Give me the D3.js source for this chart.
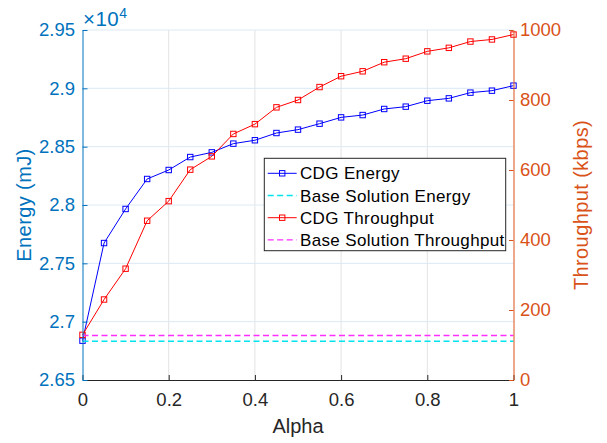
<!DOCTYPE html>
<html>
<head>
<meta charset="utf-8">
<script src="https://cdn.jsdelivr.net/npm/d3@7"></script>
<style>
  html, body { margin: 0; padding: 0; background: #fff; }
  svg { display: block; font-family: "Liberation Sans", Arial, Helvetica, sans-serif; }
</style>
</head>
<body>
<svg id="chart" width="607" height="443"></svg>
<script>
// Alpha sweep and the measured series
const alpha = [0, 0.05, 0.1, 0.15, 0.2, 0.25, 0.3, 0.35, 0.4, 0.45, 0.5,
               0.55, 0.6, 0.65, 0.7, 0.75, 0.8, 0.85, 0.9, 0.95, 1];
const cdgEnergy = [26837, 27674, 27966, 28223, 28300, 28411, 28451, 28526, 28555, 28617, 28646,
                   28697, 28751, 28771, 28823, 28843, 28894, 28914, 28963, 28980, 29023];
const cdgThroughput = [129, 230, 318, 455, 511, 601, 639, 703, 731, 779, 800,
                       837, 868, 882, 908, 918, 939, 949, 967, 973, 987];
const baseEnergy = 26832;
const baseThroughput = 127;

// Axis ticks and labels
const xTicks = [0, 0.2, 0.4, 0.6, 0.8, 1];
const xTickLabels = ["0", "0.2", "0.4", "0.6", "0.8", "1"];
const energyTicks = [26500, 27000, 27500, 28000, 28500, 29000, 29500];
const energyTickLabels = ["2.65", "2.7", "2.75", "2.8", "2.85", "2.9", "2.95"];
const throughputTicks = [0, 200, 400, 600, 800, 1000];
const throughputTickLabels = ["0", "200", "400", "600", "800", "1000"];

const legendItems = [
  { label: "CDG Energy", color: "#0000ff", dashed: false, marker: true },
  { label: "Base Solution Energy", color: "#00e4ee", dashed: true, marker: false },
  { label: "CDG Throughput", color: "#ff0000", dashed: false, marker: true },
  { label: "Base Solution Throughput", color: "#ff2eff", dashed: true, marker: false }
];

const LEFT_C = "#0072bd", RIGHT_C = "#d95319", AX_C = "#262626";
const plot = { left: 82.5, right: 513.5, top: 30, bottom: 380 };

const svg = d3.select("#chart");
svg.append("rect").attr("width", 607).attr("height", 443).attr("fill", "#fff");

const x = d3.scaleLinear().domain([0, 1]).range([plot.left, plot.right]);
const yE = d3.scaleLinear().domain([26500, 29500]).range([plot.bottom, plot.top]);
const yT = d3.scaleLinear().domain([0, 1000]).range([plot.bottom, plot.top]);

// grid
const grid = svg.append("g");
grid.selectAll("line.gx").data(xTicks.slice(1, -1)).join("line")
  .attr("x1", d => x(d)).attr("x2", d => x(d))
  .attr("y1", plot.top).attr("y2", plot.bottom)
  .attr("stroke", "#e3e3e3").attr("stroke-width", 1);
grid.selectAll("line.gy").data(energyTicks.slice(1)).join("line")
  .attr("x1", plot.left).attr("x2", plot.right)
  .attr("y1", d => yE(d)).attr("y2", d => yE(d))
  .attr("stroke", "#dbe9f5").attr("stroke-width", 1);

// series
const lineE = d3.line().x((d, i) => x(alpha[i])).y(d => yE(d));
const lineT = d3.line().x((d, i) => x(alpha[i])).y(d => yT(d));

function markers(g, vals, yScale, color) {
  g.selectAll("rect").data(vals).join("rect")
    .attr("x", (d, i) => x(alpha[i]) - 2.7).attr("y", d => yScale(d) - 2.7)
    .attr("width", 5.4).attr("height", 5.4)
    .attr("fill", "none").attr("stroke", color).attr("stroke-width", 1);
}

const gE = svg.append("g");
gE.append("path").datum(cdgEnergy).attr("d", lineE)
  .attr("fill", "none").attr("stroke", "#0000ff").attr("stroke-width", 1);
markers(gE, cdgEnergy, yE, "#0000ff");

svg.append("line")
  .attr("x1", x(0)).attr("x2", x(1)).attr("y1", yE(baseEnergy)).attr("y2", yE(baseEnergy))
  .attr("stroke", "#00e4ee").attr("stroke-width", 1.4).attr("stroke-dasharray", "6,3.5");

const gT = svg.append("g");
gT.append("path").datum(cdgThroughput).attr("d", lineT)
  .attr("fill", "none").attr("stroke", "#ff0000").attr("stroke-width", 1);
markers(gT, cdgThroughput, yT, "#ff0000");

svg.append("line")
  .attr("x1", x(0)).attr("x2", x(1)).attr("y1", yT(baseThroughput)).attr("y2", yT(baseThroughput))
  .attr("stroke", "#ff2eff").attr("stroke-width", 1.4).attr("stroke-dasharray", "6,3.5");

// axes
function styleAxis(g, color) {
  g.selectAll("path.domain").attr("stroke", color).attr("stroke-width", 1);
  g.selectAll(".tick line").attr("stroke", color).attr("stroke-width", 1);
  g.selectAll(".tick text").attr("fill", color)
    .style("font-family", "'Liberation Sans', Arial, Helvetica, sans-serif").style("font-size", "18.5px");
}

const ax = svg.append("g").attr("transform", `translate(0,${plot.bottom})`)
  .call(d3.axisBottom(x).tickValues(xTicks).tickFormat((d, i) => xTickLabels[i])
    .tickSizeInner(-5).tickSizeOuter(0).tickPadding(13));
styleAxis(ax, AX_C);

const axL = svg.append("g").attr("transform", `translate(${plot.left},0)`)
  .call(d3.axisLeft(yE).tickValues(energyTicks).tickFormat((d, i) => energyTickLabels[i])
    .tickSizeInner(-5).tickSizeOuter(0).tickPadding(7.5));
styleAxis(axL, LEFT_C);

const axR = svg.append("g").attr("transform", `translate(${plot.right},0)`)
  .call(d3.axisRight(yT).tickValues(throughputTicks).tickFormat((d, i) => throughputTickLabels[i])
    .tickSizeInner(-4.5).tickSizeOuter(0).tickPadding(6.5));
styleAxis(axR, RIGHT_C);

// exponent
const ex = svg.append("text").attr("x", 83).attr("y", 25.5).attr("fill", LEFT_C)
  .style("font-size", "20.5px").style("letter-spacing", "0.5px");
ex.append("tspan").text("\u00d710");
ex.append("tspan").attr("dy", -7.5).style("font-size", "14px").text("4");

// axis titles
svg.append("text").attr("transform", "translate(31,205) rotate(-90)")
  .attr("text-anchor", "middle").attr("fill", LEFT_C).style("font-size", "20px")
  .style("letter-spacing", "0.4px").text("Energy (mJ)");
svg.append("text").attr("transform", "translate(588,205) rotate(-90)")
  .attr("text-anchor", "middle").attr("fill", RIGHT_C).style("font-size", "20px")
  .style("letter-spacing", "0.4px").text("Throughput (kbps)");
svg.append("text").attr("x", (plot.left + plot.right) / 2).attr("y", 433)
  .attr("text-anchor", "middle").attr("fill", AX_C).style("font-size", "20px").text("Alpha");

// legend
const lg = svg.append("g").attr("transform", "translate(264.3,158.3)");
lg.append("rect").attr("width", 241.4).attr("height", 92.4)
  .attr("fill", "#fff").attr("stroke", AX_C).attr("stroke-width", 1);
const rows = lg.selectAll("g.row").data(legendItems).join("g")
  .attr("transform", (d, i) => `translate(0,${15 + i * 22.2})`);
rows.append("line").attr("x1", 3.4).attr("x2", 32.4).attr("y1", 0).attr("y2", 0)
  .attr("stroke", d => d.color).attr("stroke-width", d => d.dashed ? 1.4 : 1)
  .attr("stroke-dasharray", d => d.dashed ? "6,3.5" : null);
rows.filter(d => d.marker).append("rect")
  .attr("x", 17.9 - 2.7).attr("y", -2.7).attr("width", 5.4).attr("height", 5.4)
  .attr("fill", "none").attr("stroke", d => d.color).attr("stroke-width", 1);
rows.append("text").attr("x", 35.7).attr("y", 0).attr("dy", "0.36em")
  .attr("fill", "#000").style("font-size", "17px").style("letter-spacing", "0.35px")
  .text(d => d.label);
</script>
</body>
</html>
